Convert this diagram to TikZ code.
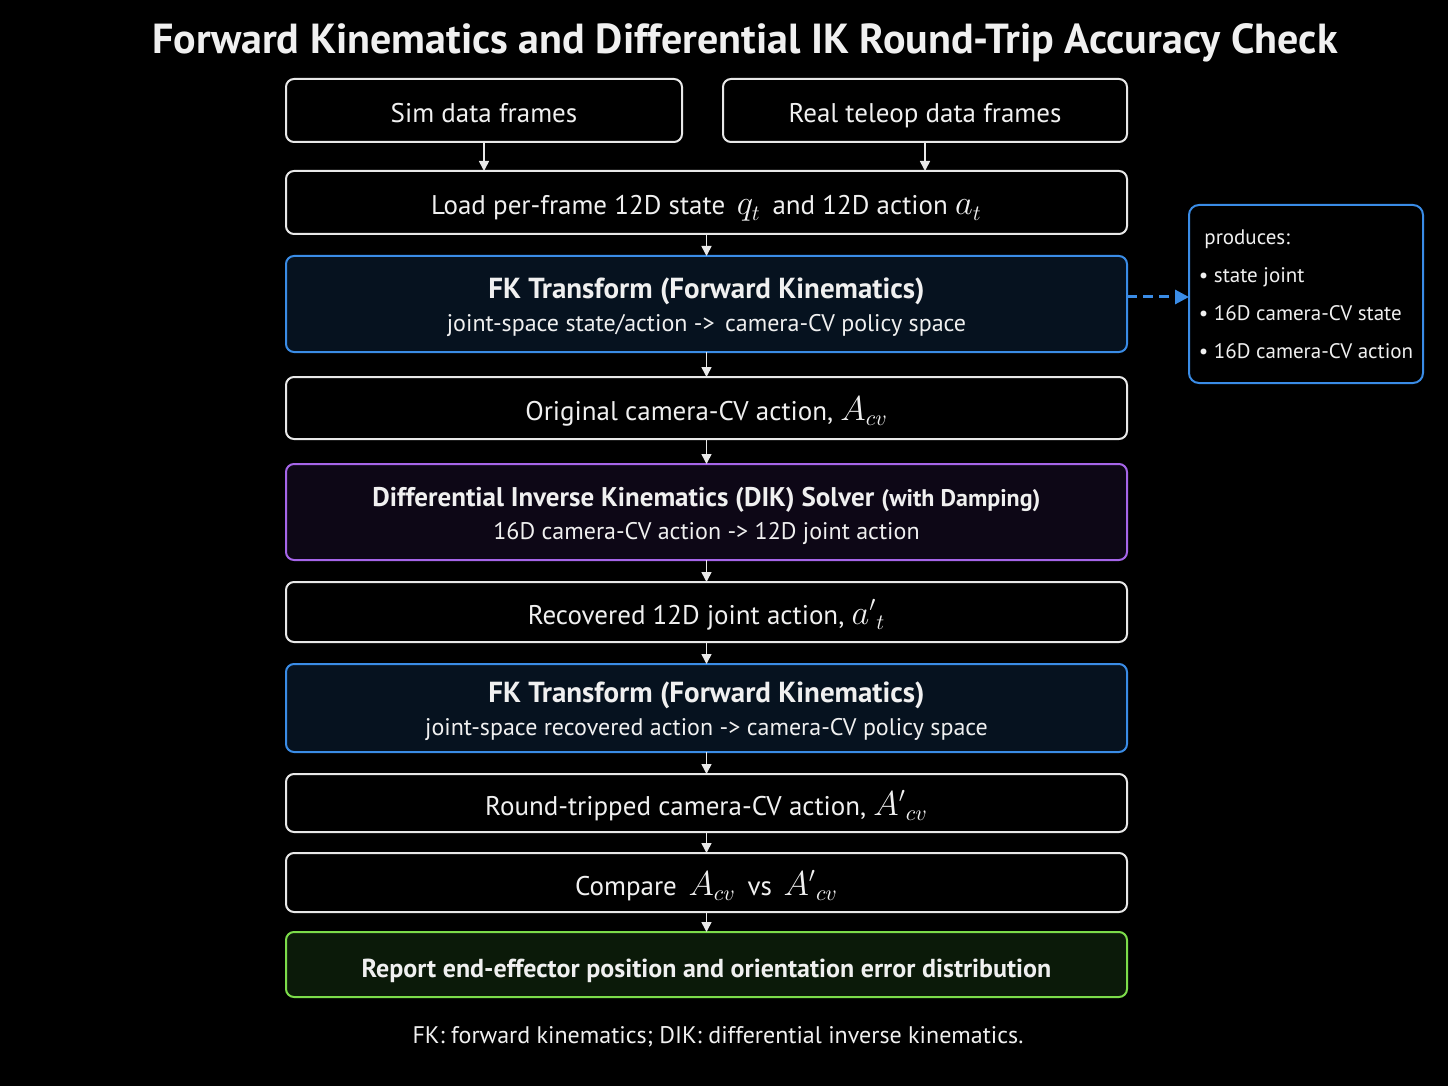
\documentclass[tikz,border=0pt]{standalone}
\usepackage{fontspec}
\setmainfont{PT Sans}
\usepackage{tikz}
\usetikzlibrary{arrows.meta,positioning}

\definecolor{fkblue}{HTML}{3A8CE6}
\definecolor{fkfill}{HTML}{06121F}
\definecolor{dikline}{HTML}{A565E8}
\definecolor{dikfill}{HTML}{0D0716}
\definecolor{okgreen}{HTML}{7CDC4A}
\definecolor{okfill}{HTML}{0B1A09}
\definecolor{lightline}{HTML}{E8E8E8}

\newcommand{\mathsym}[1]{{\fontsize{16}{16}\selectfont$#1$}}
\newcommand{\headstrut}{\rule{0pt}{14pt}}

\begin{document}
\begin{tikzpicture}[
 x=0.5pt,y=-0.5pt,
 every node/.style={text=white!94!black,outer sep=0pt},
 frame/.style={draw=lightline,line width=1pt,rounded corners=4pt,fill=black,align=center,
   minimum width=420.5pt,font=\fontsize{13.5}{16}\selectfont},
 box/.style={frame,text height=16pt,text depth=3.5pt},
 fkbox/.style={frame,draw=fkblue,fill=fkfill},
 dikbox/.style={frame,draw=dikline,fill=dikfill},
 reportbox/.style={box,draw=okgreen,fill=okfill,font=\bfseries\fontsize{13}{16}\selectfont},
 sidebox/.style={draw=fkblue,line width=1pt,rounded corners=5pt,fill=black,align=left,
   minimum width=117pt,minimum height=89pt,font=\fontsize{10.5}{19}\selectfont},
 arr/.style={-{Triangle[length=5pt,width=5pt]},draw=lightline,line width=0.8pt},
 dasharr/.style={-{Triangle[length=7pt,width=7pt]},draw=fkblue,line width=1.5pt,dash pattern=on 5pt off 3pt}
]
\useasboundingbox[fill=black] (0,0) rectangle (1448,1086);

\node[font=\bfseries\fontsize{21}{25}\selectfont] (title) at (745,43)
  {Forward Kinematics and Differential IK Round-Trip Accuracy Check};

% data sources
\node[box,minimum width=198pt,minimum height=31.5pt] (sim) at (484,110.5) {Sim data frames};
\node[box,minimum width=202pt,minimum height=31.5pt] (real) at (925,110.5) {Real teleop data frames};

% main pipeline
\node[box,minimum height=31.5pt] (load) at (706.5,202.5)
  {Load per-frame 12D state \,\mathsym{q_t}\, and 12D action \mathsym{a_t}};
\node[fkbox,minimum height=48pt,below=11pt of load] (fk1)
  {\headstrut{\bfseries\fontsize{14.5}{16}\selectfont FK Transform (Forward Kinematics)}\\[0.5pt]
   {\fontsize{12}{13}\selectfont joint-space state/action -> \,camera-CV policy space}};
\node[box,minimum height=31pt,below=12.5pt of fk1] (orig) {Original camera-CV action, \mathsym{A_{cv}}};
\node[dikbox,minimum height=48pt,below=12.5pt of orig] (dik)
  {\headstrut{\bfseries\fontsize{13.5}{16}\selectfont Differential Inverse Kinematics (DIK) Solver} {\bfseries\fontsize{12}{13}\selectfont(with Damping)}\\[0.5pt]
   {\fontsize{12}{13}\selectfont 16D camera-CV action -> 12D joint action}};
\node[box,minimum height=30pt,below=11pt of dik] (rec) {Recovered 12D joint action, \mathsym{{a'}_t}};
\node[fkbox,minimum height=44pt,below=11pt of rec] (fk2)
  {\headstrut{\bfseries\fontsize{14.5}{16}\selectfont FK Transform (Forward Kinematics)}\\[0.5pt]
   {\fontsize{12}{13}\selectfont joint-space recovered action -> camera-CV policy space}};
\node[box,minimum height=29pt,below=11pt of fk2] (round) {Round-tripped camera-CV action, \mathsym{{A'}_{cv}}};
\node[box,minimum height=29.5pt,below=10.5pt of round] (cmp) {Compare \,\mathsym{A_{cv}}\, vs \,\mathsym{{A'}_{cv}}};
\node[reportbox,minimum height=32.5pt,below=10pt of cmp] (report)
  {Report end-effector position and orientation error distribution};

% side note
\node[sidebox] (side) at (1306,294)
  {\ produces:\\ \textbullet\ state joint\\ \textbullet\ 16D camera-CV state\\ \textbullet\ 16D camera-CV action};

\node[font=\fontsize{12}{14}\selectfont] (note) at (718,1037)
  {FK: forward kinematics; DIK: differential inverse kinematics.};

\draw[arr] (sim.south) -- (sim.south |- load.north);
\draw[arr] (real.south) -- (real.south |- load.north);
\draw[arr] (load) -- (fk1);
\draw[arr] (fk1) -- (orig);
\draw[arr] (orig) -- (dik);
\draw[arr] (dik) -- (rec);
\draw[arr] (rec) -- (fk2);
\draw[arr] (fk2) -- (round);
\draw[arr] (round) -- (cmp);
\draw[arr] (cmp) -- (report);
\draw[dasharr] ([yshift=-1.5pt]fk1.east |- side.west) -- ([yshift=-1.5pt]side.west);
\end{tikzpicture}
\end{document}
